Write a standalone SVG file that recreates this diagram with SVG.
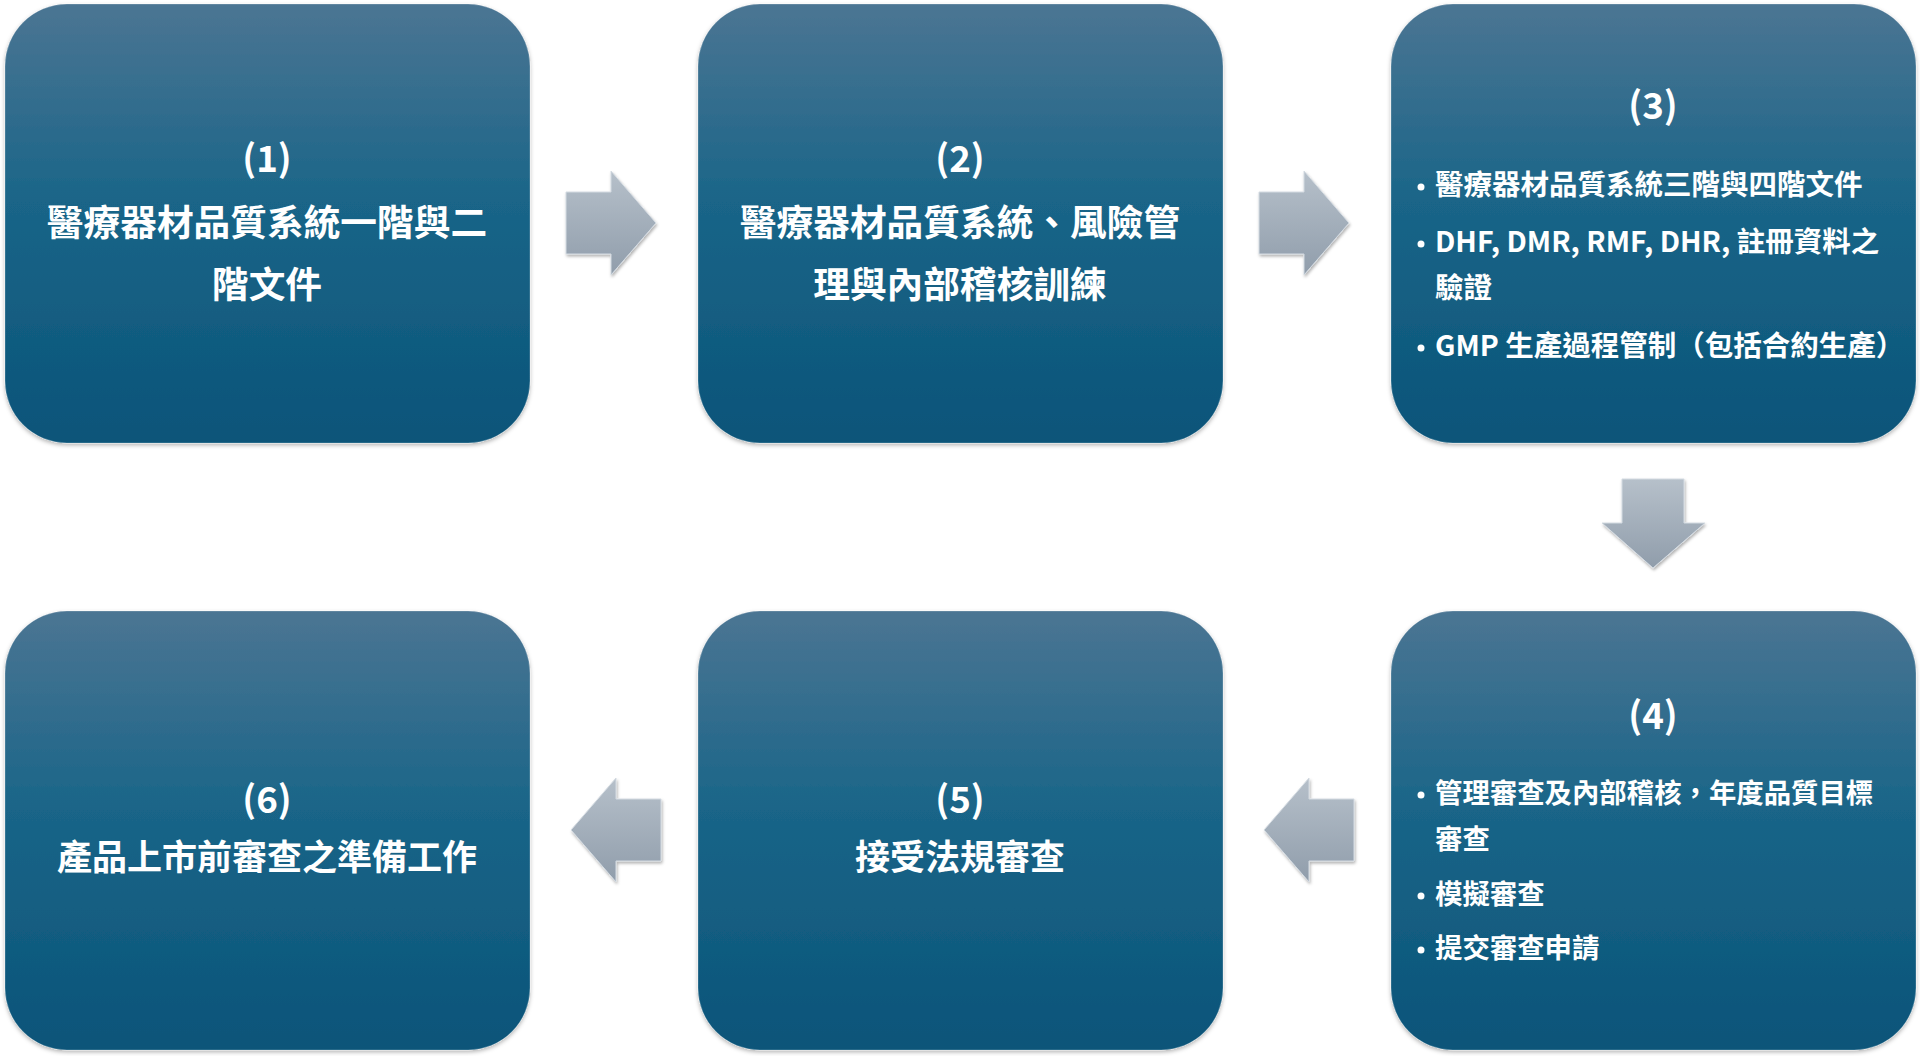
<svg xmlns="http://www.w3.org/2000/svg" width="1920" height="1056" viewBox="0 0 1920 1056">
<defs>
<linearGradient id="boxg" x1="0" y1="0" x2="0" y2="1">
<stop offset="0" stop-color="#4b7593"/>
<stop offset="0.45" stop-color="#1a6588"/>
<stop offset="1" stop-color="#0a5479"/>
</linearGradient>
<linearGradient id="arrg" x1="0" y1="0" x2="0" y2="1">
<stop offset="0" stop-color="#b6c0ca"/>
<stop offset="1" stop-color="#909dab"/>
</linearGradient>
<filter id="sh" x="-10%" y="-10%" width="120%" height="120%">
<feDropShadow dx="0" dy="2" stdDeviation="2" flood-color="#000" flood-opacity="0.3"/>
</filter>
<filter id="ash" x="-20%" y="-20%" width="140%" height="140%">
<feDropShadow dx="1" dy="2" stdDeviation="1.5" flood-color="#000" flood-opacity="0.3"/>
</filter>
</defs>
<style>
.box{fill:url(#boxg);stroke:#ffffff;stroke-opacity:0.25;stroke-width:1;filter:url(#sh)}
.arr{fill:url(#arrg);stroke:#d4dbe2;stroke-width:1;filter:url(#ash)}
text{font-family:"Noto Sans CJK TC","Noto Sans CJK SC",sans-serif;font-weight:700;fill:#ffffff}
.t{font-size:36.7px;text-anchor:middle}
.s{font-size:35px;text-anchor:middle}
.b{font-size:28.5px}
.c{font-size:27.4px}
.dot{fill:#ffffff}
</style>
<rect width="1920" height="1056" fill="#ffffff"/>
<g id="connectors">
<polygon class="arr" points="566,192 611,192 611,171 656,223 611,275 611,254 566,254"/>
<polygon class="arr" points="1259,192 1304,192 1304,171 1349,223 1304,275 1304,254 1259,254"/>
<polygon class="arr" points="1622,479 1684,479 1684,523 1705,523 1653,568 1602,523 1622,523"/>
<polygon class="arr" points="1354,799 1309,799 1309,778 1264,830 1309,882 1309,861 1354,861"/>
<polygon class="arr" points="661,799 616,799 616,778 571,830 616,882 616,861 661,861"/>
</g>
<g id="node1">
<rect class="box" x="5" y="4" width="525" height="439" rx="62"/>
<text class="t" x="267" y="172">(1)</text>
<text class="t" x="267" y="236">醫療器材品質系統一階與二</text>
<text class="t" x="267" y="298">階文件</text>
</g>
<g id="node2">
<rect class="box" x="698" y="4" width="525" height="439" rx="62"/>
<text class="t" x="960" y="172">(2)</text>
<text class="t" x="960" y="236">醫療器材品質系統、風險管</text>
<text class="t" x="960" y="298">理與內部稽核訓練</text>
</g>
<g id="node3">
<rect class="box" x="1391" y="4" width="525" height="439" rx="62"/>
<text class="t" x="1653" y="119">(3)</text>
<circle class="dot" cx="1421" cy="187" r="3.5"/>
<text class="b" x="1435" y="195">醫療器材品質系統三階與四階文件</text>
<circle class="dot" cx="1421" cy="244" r="3.5"/>
<text class="b" x="1435" y="252">DHF, DMR, RMF, DHR, 註冊資料之</text>
<text class="b" x="1435" y="298">驗證</text>
<circle class="dot" cx="1421" cy="348" r="3.5"/>
<text class="b" x="1435" y="356">GMP 生產過程管制（包括合約生產）</text>
</g>
<g id="node4">
<rect class="box" x="1391" y="611" width="525" height="439" rx="62"/>
<text class="t" x="1653" y="729">(4)</text>
<circle class="dot" cx="1421" cy="795" r="3.5"/>
<text class="c" x="1435" y="803">管理審查及內部稽核，年度品質目標</text>
<text class="c" x="1435" y="849">審查</text>
<circle class="dot" cx="1421" cy="896" r="3.5"/>
<text class="c" x="1435" y="904">模擬審查</text>
<circle class="dot" cx="1421" cy="950" r="3.5"/>
<text class="c" x="1435" y="958">提交審查申請</text>
</g>
<g id="node5">
<rect class="box" x="698" y="611" width="525" height="439" rx="62"/>
<text class="t" x="960" y="813">(5)</text>
<text class="s" x="960" y="870">接受法規審查</text>
</g>
<g id="node6">
<rect class="box" x="5" y="611" width="525" height="439" rx="62"/>
<text class="t" x="267" y="813">(6)</text>
<text class="s" x="267" y="870">產品上市前審查之準備工作</text>
</g>
</svg>
